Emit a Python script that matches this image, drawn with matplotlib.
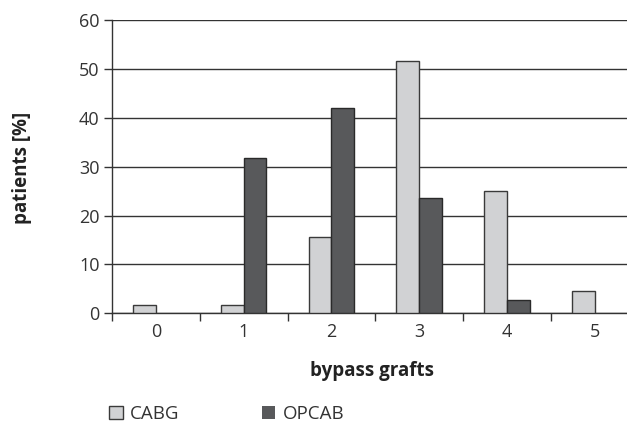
import matplotlib.pyplot as plt
import numpy as np

plt.rcParams['font.family'] = ['Open Sans', 'DejaVu Sans']

grafts = ["0", "1", "2", "3", "4", "5"]
cabg = [1.8, 1.6, 15.6, 51.6, 25.0, 4.6]
opcab = [0, 31.8, 42.1, 23.6, 2.7, 0]

fig = plt.figure(figsize=(6.27, 4.23), dpi=100)
ax = fig.add_axes([112 / 627, 1 - 313.3 / 423, 526.7 / 627, 293.3 / 423])

x = np.arange(len(grafts))
w = 0.26
# no outline on empty bars
lw_c = [1 if v > 0 else 0 for v in cabg]
lw_o = [1 if v > 0 else 0 for v in opcab]
ax.bar(x - w / 2, cabg, w, color="#d1d2d4", edgecolor="#3a3a3a", linewidth=lw_c, label="CABG", zorder=3)
ax.bar(x + w / 2, opcab, w, color="#58595b", edgecolor="#2a2a2a", linewidth=lw_o, label="OPCAB", zorder=3)

ax.set_xlim(-0.5, 5.5)
ax.set_ylim(0, 60)
ax.set_yticks(range(0, 61, 10))
ax.set_xticks(x)
ax.set_xticklabels(grafts)
ax.set_xticks(np.arange(-0.5, 6, 1), minor=True)
ax.tick_params(axis="x", which="major", length=0, pad=7, labelsize=13, labelcolor="#333333")
ax.tick_params(axis="x", which="minor", length=6, width=1, color="#333333")
ax.tick_params(axis="y", length=6, width=1, color="#333333", labelsize=13, labelcolor="#333333", pad=3)

ax.grid(axis="y", color="#333333", linewidth=1, zorder=0)
ax.set_axisbelow(True)
for s in ["top", "right"]:
    ax.spines[s].set_visible(False)
for s in ["left", "bottom"]:
    ax.spines[s].set_color("#333333")
    ax.spines[s].set_linewidth(1)

fig.text(22 / 627, 1 - 168 / 423, "patients [%]", rotation=90, ha="center", va="center",
         fontsize=13.5, fontweight="bold", color="#222222")
fig.text(372 / 627, 1 - 371 / 423, "bypass grafts", ha="center", va="center",
         fontsize=13.5, fontweight="bold", color="#222222")

leg = fig.legend(loc="center left", bbox_to_anchor=(102 / 627, 1 - 414 / 423), ncol=2, frameon=False,
                 fontsize=13.5, handlelength=0.7, handleheight=0.7, handletextpad=0.4,
                 columnspacing=4.4, borderaxespad=0, labelcolor="#333333")

fig.savefig("out.png", dpi=100)
